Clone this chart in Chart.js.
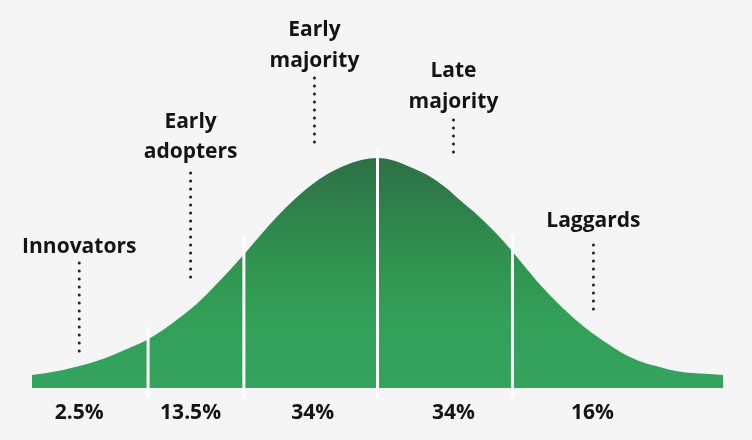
<!DOCTYPE html>
<html>
<head>
<meta charset="utf-8">
<script src="https://cdn.jsdelivr.net/npm/chart.js@4/dist/chart.umd.min.js"></script>
<style>
  html, body { margin: 0; padding: 0; background: #f5f5f5; }
  #wrap { width: 752px; height: 440px; }
</style>
</head>
<body>
<div id="wrap"><canvas id="c" width="752" height="440"></canvas></div>
<script>
// ---- data ----
const stageNames = [["Innovators"], ["Early", "adopters"], ["Early", "majority"], ["Late", "majority"], ["Laggards"]];
const stageShares = [2.5, 13.5, 34, 34, 16];
// curve position in standard-deviation units and height of the curve
const curveX = [-2.56, -2.45, -2.33, -2.21, -2.08, -1.96, -1.84, -1.71, -1.59, -1.47, -1.34, -1.22, -1.10, -0.98,
                -0.86, -0.74, -0.62, -0.50, -0.37, -0.25, -0.12, 0, 0.13, 0.24, 0.37, 0.50, 0.61, 0.74,
                0.87, 0.99, 1.10, 1.22, 1.35, 1.47, 1.59, 1.72, 1.84, 1.96, 2.09, 2.21, 2.33, 2.46, 2.56];
const curveY = [13, 15, 18, 22, 27, 33, 40, 48, 58, 70, 84, 100, 117, 135,
                154, 172, 188, 202, 214, 222, 228, 230, 227, 221, 213, 201, 188, 173,
                156, 138, 120, 101, 83, 68, 55, 43, 33, 26, 21, 17, 15, 14, 13];
// boundaries between stages
const boundaryX = [-1.70, -0.99, 0, 1.0];
const boundaryTop = [61, 153, 240, 153];

// ---- layout (positions / styles, not data) ----
const labelX = [-2.21, -1.385, -0.467, 0.563, 1.60];           // label anchor, x units
const labelBaselines = [[253], [128, 158], [36, 67], [77, 108], [227]]; // px from top
const leaderRange = [[263, 353], [173, 285], [78, 145], [120, 157], [245, 311]]; // px from top
const shareX = [-2.21, -1.385, -0.48, 0.563, 1.593];
const shareBaseline = 419;
const BASE = 388; // baseline pixel

const curveData = curveX.map((x, i) => ({ x, y: curveY[i] }));
const px2h = p => BASE - p;

const datasets = [];
datasets.push({
  label: 'curve',
  data: curveData,
  borderWidth: 0,
  borderColor: 'rgba(0,0,0,0)',
  pointRadius: 0,
  cubicInterpolationMode: 'monotone',
  fill: { value: 0 },
  backgroundColor: (ctx) => {
    const { chart } = ctx;
    const { ctx: c, scales, chartArea } = chart;
    if (!chartArea || !scales.y) return '#33a25c';
    const yTop = scales.y.getPixelForValue(230);
    const yBot = scales.y.getPixelForValue(0);
    if (!isFinite(yTop) || !isFinite(yBot)) return '#33a25c';
    const g = c.createLinearGradient(0, yTop, 0, yBot);
    g.addColorStop(0, '#2d7047');
    g.addColorStop(0.45, '#30934f');
    g.addColorStop(0.7, '#33a05a');
    g.addColorStop(1, '#34a35d');
    return g;
  },
  order: 3
});
boundaryX.forEach((bx, i) => {
  datasets.push({
    label: 'sep' + i,
    data: [{ x: bx, y: -10 }, { x: bx, y: boundaryTop[i] }],
    borderColor: '#ffffff',
    borderWidth: 3,
    pointRadius: 0,
    fill: false,
    order: 1
  });
});
labelX.forEach((lx, i) => {
  datasets.push({
    label: 'leader' + i,
    data: [{ x: lx, y: px2h(leaderRange[i][0]) }, { x: lx, y: px2h(leaderRange[i][1]) }],
    borderColor: '#222222',
    borderWidth: 3,
    borderDash: [0, 8],
    borderCapStyle: 'round',
    pointRadius: 0,
    fill: false,
    order: 2
  });
});

const textPlugin = {
  id: 'texts',
  afterDatasetsDraw(chart) {
    const { ctx, scales } = chart;
    ctx.save();
    ctx.fillStyle = '#141414';
    ctx.textAlign = 'center';
    ctx.textBaseline = 'alphabetic';
    ctx.font = 'bold 21px "Open Sans"';
    stageNames.forEach((lines, i) => {
      const x = scales.x.getPixelForValue(labelX[i]);
      lines.forEach((t, j) => ctx.fillText(t, x, labelBaselines[i][j]));
    });
    stageShares.forEach((s, i) => {
      const x = scales.x.getPixelForValue(shareX[i]);
      ctx.fillText(s + '%', x, shareBaseline);
    });
    ctx.restore();
  }
};

new Chart(document.getElementById('c'), {
  type: 'line',
  data: { datasets },
  options: {
    responsive: false,
    animation: false,
    layout: { padding: { left: 32, right: 29, top: 0, bottom: 0 } },
    plugins: { legend: { display: false }, tooltip: { enabled: false } },
    elements: { line: { tension: 0 } },
    scales: {
      x: { type: 'linear', min: -2.56, max: 2.56, display: false },
      y: { type: 'linear', min: -52, max: 388, display: false }
    }
  },
  plugins: [textPlugin]
});
</script>
</body>
</html>
